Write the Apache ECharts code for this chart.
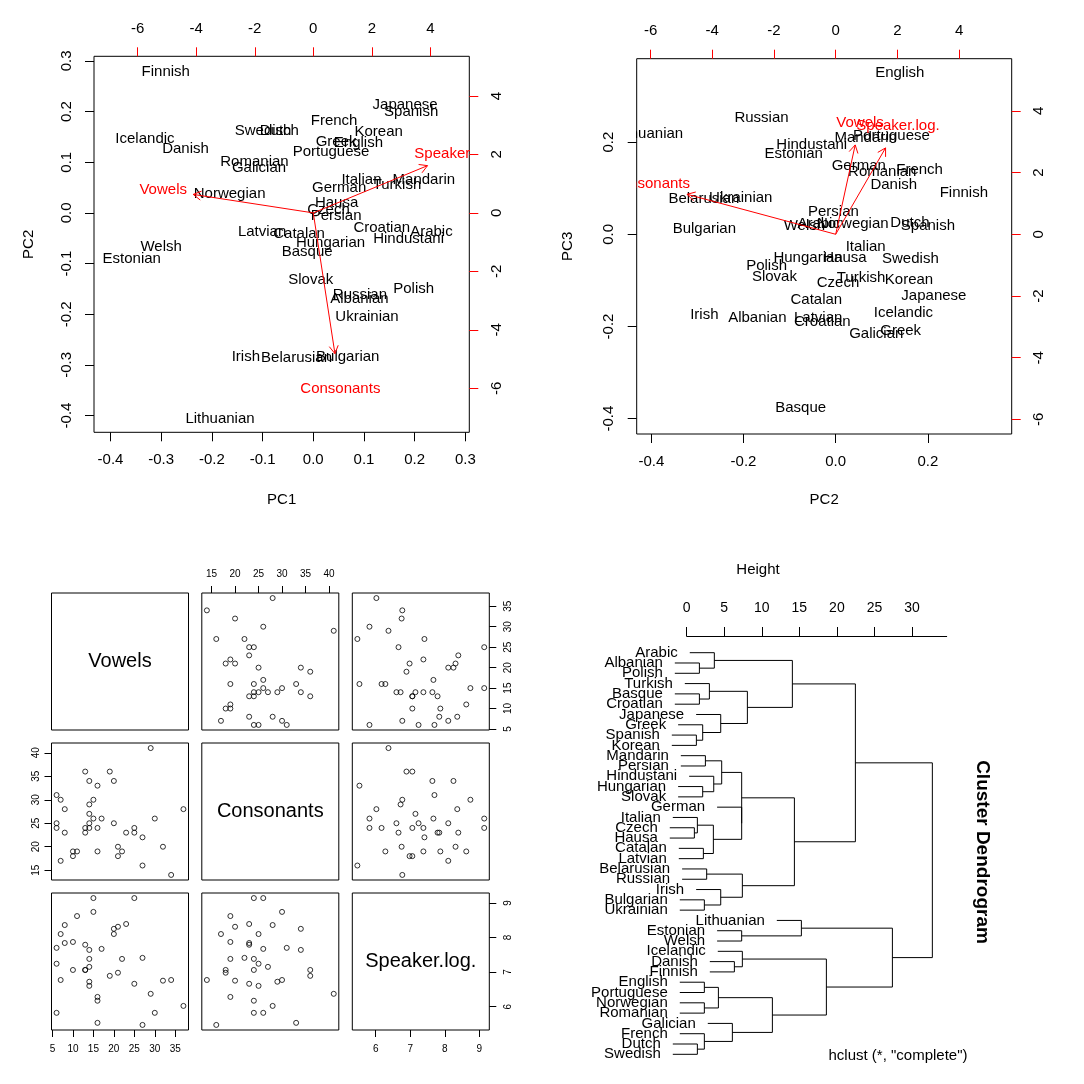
<!DOCTYPE html>
<html>
<head>
<meta charset="utf-8">
<script src="https://cdn.jsdelivr.net/npm/echarts@6/dist/echarts.min.js"></script>
<style>
html, body { margin: 0; padding: 0; background: #fff; }
#main { width: 1084px; height: 1084px; }
</style>
</head>
<body>
<div id="main"></div>
<script>
// ---- PCA scores (biplots) ----
var languages = ['Finnish', 'Japanese', 'Spanish', 'French', 'Swedish', 'Dutch', 'Korean', 'Icelandic', 'Greek', 'English',
    'Danish', 'Portuguese', 'Romanian', 'Galician', 'Italian', 'Mandarin', 'Turkish', 'German', 'Norwegian', 'Hausa',
    'Czech', 'Persian', 'Croatian', 'Arabic', 'Latvian', 'Catalan', 'Hindustani', 'Hungarian', 'Welsh', 'Basque',
    'Estonian', 'Slovak', 'Polish', 'Russian', 'Albanian', 'Ukrainian', 'Irish', 'Belarusian', 'Bulgarian', 'Lithuanian'];
var pc1 = [-0.291, 0.181, 0.193, 0.041, -0.099, -0.067, 0.129, -0.332, 0.045, 0.089,
    -0.252, 0.035, -0.116, -0.107, 0.095, 0.218, 0.165, 0.051, -0.165, 0.046,
    0.030, 0.045, 0.135, 0.233, -0.101, -0.028, 0.188, 0.034, -0.300, -0.012,
    -0.358, -0.005, 0.198, 0.092, 0.091, 0.106, -0.133, -0.033, 0.068, -0.184];
var pc2 = [0.278, 0.213, 0.200, 0.182, 0.162, 0.161, 0.159, 0.147, 0.141, 0.139,
    0.126, 0.121, 0.101, 0.088, 0.065, 0.065, 0.055, 0.050, 0.037, 0.020,
    0.005, -0.005, -0.029, -0.037, -0.038, -0.042, -0.052, -0.060, -0.068, -0.076,
    -0.091, -0.133, -0.150, -0.161, -0.170, -0.206, -0.285, -0.286, -0.285, -0.406];
var pc3 = [0.089, -0.133, 0.018, 0.140, -0.054, 0.025, -0.098, -0.171, -0.210, 0.351,
    0.108, 0.214, 0.136, -0.215, -0.027, 0.210, -0.095, 0.148, 0.022, -0.052,
    -0.105, 0.049, -0.189, 0.022, -0.181, -0.142, 0.195, -0.051, 0.018, -0.377,
    0.174, -0.092, -0.069, 0.252, -0.182, 0.078, -0.174, 0.076, 0.011, 0.217];

// loadings (label positions, arrows drawn to 0.8 of them)
var loadNames = ['Vowels', 'Consonants', 'Speaker.log.'];
var loadPC1 = [-5.13, 0.925, 4.88];
var loadPC2 = [0.79, -6.02, 2.02];
var loadPC3 = [3.62, 1.62, 3.50];

var pcTicksA = [-0.4, -0.3, -0.2, -0.1, 0, 0.1, 0.2, 0.3];
var pcTicksB = [-0.4, -0.2, 0, 0.2];
var loadTicks = [-6, -4, -2, 0, 2, 4];

// ---- raw variables (pairs plot) ----
var vowels = [15, 25, 15, 11, 21, 23, 8, 20, 7, 20, 10, 8, 13, 17, 6, 14, 22, 27, 14, 6,
    10, 21, 13, 14, 13, 19, 34, 32, 25, 14, 14, 7, 29, 16, 16, 37, 6, 30, 27, 16];
var consonants = [26, 24, 30, 19, 20, 23, 28, 34, 17, 25, 19, 23, 23, 26, 31, 34, 19, 22, 24, 25,
    18, 18, 24, 27, 36, 36, 14, 20, 23, 25, 29, 30, 41, 19, 24, 28, 24, 26, 16, 33];
var speakerLog = [9.14, 9.14, 8.74, 8.62, 8.31, 8.39, 8.36, 8.25, 8.10, 8.10,
    7.87, 7.84, 7.79, 7.67, 7.70, 7.64, 7.38, 7.41, 7.38, 7.24,
    7.06, 6.98, 7.06, 7.15, 7.06, 6.89, 6.77, 6.75, 6.66, 6.60,
    6.72, 6.77, 6.37, 6.28, 6.17, 6.02, 5.82, 5.82, 5.47, 5.53];
var vowelTicks = [5, 10, 15, 20, 25, 30, 35];
var consTicks = [15, 20, 25, 30, 35, 40];
var speakTicks = [6, 7, 8, 9];

// ---- hierarchical clustering (complete linkage) ----
var leafOrder = ['Arabic', 'Albanian', 'Polish', 'Turkish', 'Basque', 'Croatian', 'Japanese', 'Greek', 'Spanish', 'Korean',
    'Mandarin', 'Persian', 'Hindustani', 'Hungarian', 'Slovak', 'German', 'Italian', 'Czech', 'Hausa', 'Catalan',
    'Latvian', 'Belarusian', 'Russian', 'Irish', 'Bulgarian', 'Ukrainian', 'Lithuanian', 'Estonian', 'Welsh', 'Icelandic',
    'Danish', 'Finnish', 'English', 'Portuguese', 'Norwegian', 'Romanian', 'Galician', 'French', 'Dutch', 'Swedish'];
// [child, child, height]; a string is a leaf, a number is an earlier merge
var merges = [
    ['Albanian', 'Polish', 1.69],   // 0
    ['Arabic', 0, 3.68],            // 1
    ['Basque', 'Croatian', 1.69],   // 2
    ['Turkish', 2, 3.02],           // 3
    ['Spanish', 'Korean', 1.29],    // 4
    ['Greek', 4, 2.13],             // 5
    ['Japanese', 5, 4.53],          // 6
    [3, 6, 8.08],                   // 7
    [1, 7, 14.07],                  // 8
    ['Mandarin', 'Persian', 2.49],  // 9
    ['Hungarian', 'Slovak', 2.13],  // 10
    ['Hindustani', 10, 3.60],       // 11
    [9, 11, 4.66],                  // 12
    ['Czech', 'Hausa', 1.02],       // 13
    ['Italian', 13, 1.42],          // 14
    ['Catalan', 'Latvian', 2.22],   // 15
    [14, 15, 3.55],                 // 16
    ['German', 16, 7.32],           // 17
    [12, 17, 7.32],                 // 18
    ['Belarusian', 'Russian', 2.66],// 19
    ['Bulgarian', 'Ukrainian', 2.35],// 20
    ['Irish', 20, 4.53],            // 21
    [19, 21, 7.41],                 // 22
    [18, 22, 14.34],                // 23
    [8, 23, 22.46],                 // 24
    ['Estonian', 'Welsh', 7.32],    // 25
    ['Lithuanian', 25, 15.27],      // 26
    ['Danish', 'Finnish', 6.35],    // 27
    ['Icelandic', 27, 7.41],        // 28
    ['English', 'Portuguese', 2.35],// 29
    ['Norwegian', 'Romanian', 2.35],// 30
    [29, 30, 4.22],                 // 31
    ['Dutch', 'Swedish', 1.42],     // 32
    ['French', 32, 2.35],           // 33
    ['Galician', 33, 6.08],         // 34
    [31, 34, 11.41],                // 35
    [28, 35, 18.60],                // 36
    [26, 36, 27.39],                // 37
    [24, 37, 32.71]                 // 38
];
var heightTicks = [0, 5, 10, 15, 20, 25, 30];

var FONT = '"Liberation Sans", Arial, sans-serif';
var grids = [], xAxes = [], yAxes = [], series = [], graphics = [];

function addGrid(l, t, w, h, box) {
    grids.push({
        left: l, top: t, width: w, height: h, show: !!box,
        borderColor: '#000', borderWidth: 1, backgroundColor: 'rgba(0,0,0,0)',
        containLabel: false, outerBoundsMode: 'none'
    });
    return grids.length - 1;
}

function axis(dim, grid, lim, opt) {
    opt = opt || {};
    var shown = !!opt.ticks;
    var a = {
        type: 'value', gridIndex: grid, min: lim[0], max: lim[1],
        inverse: !!opt.inverse, offset: opt.offset || 0,
        axisLine: {show: !!opt.line, onZero: false, lineStyle: {color: '#000', width: 1}},
        splitLine: {show: false},
        axisTick: {show: shown, length: opt.tickLen || 9, lineStyle: {color: opt.tickColor || '#000', width: 1}},
        axisLabel: {
            show: shown, margin: opt.margin || 20, rotate: opt.rotate || 0, interval: 0,
            fontSize: opt.fontSize || 15, fontFamily: FONT, color: '#000', hideOverlap: false
        }
    };
    if (opt.pos) a.position = opt.pos;
    if (shown) {
        a.axisTick.customValues = opt.ticks;
        a.axisLabel.customValues = opt.ticks;
    }
    if (opt.fmt) a.axisLabel.formatter = opt.fmt;
    if (opt.name) {
        a.name = opt.name;
        a.nameLocation = 'middle';
        a.nameGap = opt.nameGap;
        a.nameTextStyle = {fontSize: 15, fontFamily: FONT, color: '#000'};
    }
    var list = dim === 'x' ? xAxes : yAxes;
    list.push(a);
    return list.length - 1;
}

function fmt1(v) { return v.toFixed(1); }

function txt(x, y, s, size, color, weight, align) {
    return {
        type: 'text', x: x, y: y,
        style: {
            text: s, fill: color || '#000', fontSize: size, fontFamily: FONT, fontWeight: weight || 'normal',
            align: align || 'center', verticalAlign: 'middle'
        }
    };
}

function biplot(rect, xs, ys, lx, ly, xlim, ylim, ratio, xt, yt, xName, yName, gx, gy) {
    var g = addGrid(rect[0], rect[1], rect[2], rect[3], true);
    var xi = axis('x', g, xlim, {pos: 'bottom', ticks: xt, fmt: fmt1, name: xName, nameGap: gx});
    var yi = axis('y', g, ylim, {pos: 'left', ticks: yt, fmt: fmt1, rotate: 90, name: yName, nameGap: gy});
    var x2 = axis('x', g, [xlim[0] * ratio, xlim[1] * ratio], {pos: 'top', ticks: loadTicks, tickColor: '#ff0000'});
    var y2 = axis('y', g, [ylim[0] * ratio, ylim[1] * ratio], {pos: 'right', ticks: loadTicks, tickColor: '#ff0000', rotate: 90});
    series.push({
        type: 'custom', xAxisIndex: xi, yAxisIndex: yi, clip: true, silent: true, animation: false,
        data: xs.map(function (v, i) { return [v, ys[i], i]; }),
        renderItem: function (params, api) {
            var p = api.coord([api.value(0), api.value(1)]);
            return txt(p[0], p[1], languages[api.value(2)], 15);
        }
    });
    series.push({
        type: 'custom', xAxisIndex: x2, yAxisIndex: y2, clip: true, silent: true, animation: false,
        data: lx.map(function (v, i) { return [v, ly[i], i]; }),
        renderItem: function (params, api) {
            var o = api.coord([0, 0]);
            var t = api.coord([api.value(0) * 0.8, api.value(1) * 0.8]);
            var l = api.coord([api.value(0), api.value(1)]);
            var ang = Math.atan2(t[1] - o[1], t[0] - o[0]);
            var L = 9, a = Math.PI / 6;
            var h1 = [t[0] - L * Math.cos(ang - a), t[1] - L * Math.sin(ang - a)];
            var h2 = [t[0] - L * Math.cos(ang + a), t[1] - L * Math.sin(ang + a)];
            return {
                type: 'group', children: [
                    {type: 'line', shape: {x1: o[0], y1: o[1], x2: t[0], y2: t[1]}, style: {stroke: '#ff0000', lineWidth: 1}},
                    {type: 'polyline', shape: {points: [h1, t, h2]}, style: {stroke: '#ff0000', lineWidth: 1, fill: null}},
                    txt(l[0], l[1], loadNames[api.value(2)], 15, '#ff0000')
                ]
            };
        }
    });
}

// panel 1: PC1 vs PC2
biplot([94, 56.3, 375.3, 376], pc1, pc2, loadPC1, loadPC2,
    [-0.4325, 0.3077], [-0.4331, 0.3091], 17.33, pcTicksA, pcTicksA.slice(), 'PC1', 'PC2', 60, 58);
// panel 2: PC2 vs PC3
biplot([636.7, 58.7, 375, 375.3], pc2, pc3, loadPC2, loadPC3,
    [-0.4317, 0.3818], [-0.4332, 0.3809], 14.94, pcTicksB, pcTicksB.slice(), 'PC2', 'PC3', 58, 61);

// panel 3: pairs plot
var pairVars = [vowels, consonants, speakerLog];
var pairNames = ['Vowels', 'Consonants', 'Speaker.log.'];
var pairTicks = [vowelTicks, consTicks, speakTicks];
function padRange(a) {
    var mn = Math.min.apply(null, a), mx = Math.max.apply(null, a), p = (mx - mn) * 0.04;
    return [mn - p, mx + p];
}
var colLeft = [51.5, 201.8, 352.3], rowTop = [593, 743, 893], cell = 137;
for (var i = 0; i < 3; i++) {
    for (var j = 0; j < 3; j++) {
        var g = addGrid(colLeft[j], rowTop[i], cell, cell, true);
        var xo = {}, yo = {};
        if (i === 2 && j !== 1) xo = {pos: 'bottom', ticks: pairTicks[j], tickLen: 7, margin: 14, fontSize: 10};
        if (i === 0 && j === 1) xo = {pos: 'top', ticks: pairTicks[j], tickLen: 7, margin: 14, fontSize: 10};
        if (j === 0 && i === 1) yo = {pos: 'left', ticks: pairTicks[i], tickLen: 7, margin: 10, fontSize: 10, rotate: 90};
        if (j === 2 && i !== 1) yo = {pos: 'right', ticks: pairTicks[i], tickLen: 7, margin: 14, fontSize: 10, rotate: 90};
        var xi = axis('x', g, padRange(pairVars[j]), xo);
        var yi = axis('y', g, padRange(pairVars[i]), yo);
        if (i === j) {
            graphics.push(txt(colLeft[j] + cell / 2, rowTop[i] + cell / 2, pairNames[i], 20));
        } else {
            series.push({
                type: 'scatter', xAxisIndex: xi, yAxisIndex: yi, silent: true, animation: false,
                symbol: 'circle', symbolSize: 5,
                itemStyle: {color: 'rgba(0,0,0,0)', borderColor: '#000', borderWidth: 1},
                data: pairVars[j].map(function (v, k) { return [v, this[k]]; }, pairVars[i])
            });
        }
    }
}

// panel 4: dendrogram
var hang = 0.1 * merges[merges.length - 1][2];
var nodeY = [], segs = [], leafPos = [];
merges.forEach(function (m) {
    var ys = [], hs = [];
    [m[0], m[1]].forEach(function (c) {
        if (typeof c === 'string') {
            var idx = leafOrder.indexOf(c);
            ys.push(idx);
            hs.push(m[2] - hang);
            leafPos.push([m[2] - hang, idx]);
        } else {
            ys.push(nodeY[c]);
            hs.push(merges[c][2]);
        }
    });
    nodeY.push((ys[0] + ys[1]) / 2);
    segs.push([[hs[0], ys[0]], [m[2], ys[0]], [m[2], ys[1]], [hs[1], ys[1]]]);
});
var dg = addGrid(686.7, 652.7, 260, 401.6, false);
var dx = axis('x', dg, [0, 34.62], {pos: 'top', offset: 16.7, ticks: heightTicks, line: true, margin: 21, fontSize: 14});
var dy = axis('y', dg, [0, leafOrder.length - 1], {inverse: true});
series.push({
    type: 'custom', xAxisIndex: dx, yAxisIndex: dy, clip: false, silent: true, animation: false,
    data: segs.map(function (s, k) { return [s[1][0], s[1][1], k]; }),
    renderItem: function (params, api) {
        var s = segs[api.value(2)];
        return {
            type: 'polyline',
            shape: {points: s.map(function (p) { return api.coord(p); })},
            style: {stroke: '#000', lineWidth: 1, fill: null}
        };
    }
});
series.push({
    type: 'custom', xAxisIndex: dx, yAxisIndex: dy, clip: false, silent: true, animation: false,
    data: leafPos.map(function (p) { return [p[0], p[1]]; }),
    renderItem: function (params, api) {
        var p = api.coord([api.value(0), api.value(1)]);
        return txt(p[0] - 12, p[1], leafOrder[api.value(1)], 15, '#000', 'normal', 'right');
    }
});
graphics.push(txt(758, 570, 'Height', 15));
graphics.push(txt(898, 1056, 'hclust (*, "complete")', 15));
var title = txt(982, 852, 'Cluster Dendrogram', 19, '#000', 'bold');
title.rotation = -Math.PI / 2;
graphics.push(title);

var myChart = echarts.init(document.getElementById('main'), null, {renderer: 'canvas'});
myChart.setOption({
    animation: false,
    backgroundColor: '#fff',
    grid: grids,
    xAxis: xAxes,
    yAxis: yAxes,
    series: series,
    graphic: {elements: graphics}
});
</script>
</body>
</html>
